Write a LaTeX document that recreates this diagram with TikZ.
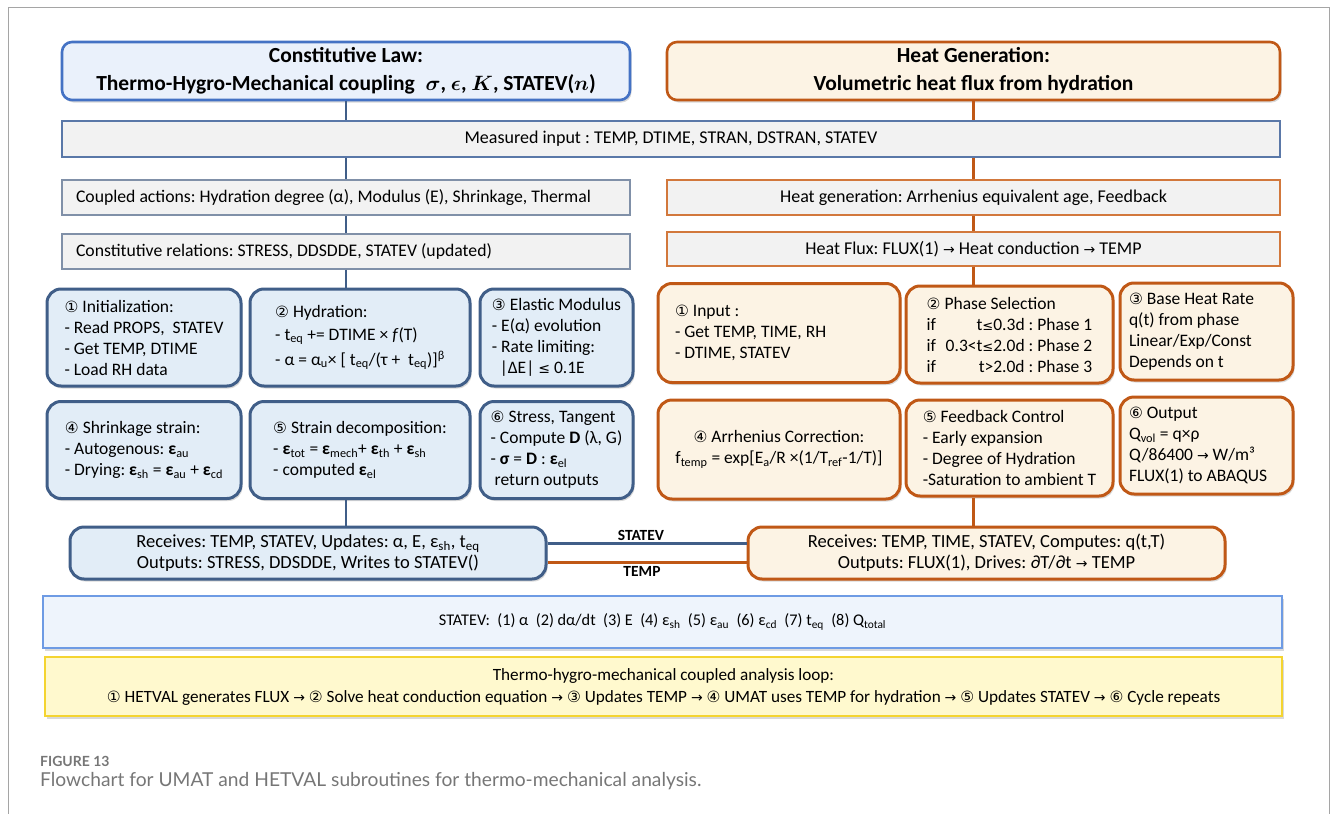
\documentclass[tikz,border=0pt]{standalone}
\usepackage{fontspec}
\usepackage{bm}
\setmainfont{Carlito}
\newfontfamily\djv{DejaVu Sans}
\newfontfamily\capfont{Lato}
\usetikzlibrary{shadows}
\frenchspacing
\hyphenpenalty=10000
\definecolor{hblue}{RGB}{68,114,196}
\definecolor{hbluefill}{RGB}{234,241,251}
\definecolor{dblue}{RGB}{64,94,136}
\definecolor{lbfill}{RGB}{226,237,247}
\definecolor{orng}{RGB}{192,88,22}
\definecolor{ofill}{RGB}{252,243,228}
\definecolor{barfill}{RGB}{242,242,242}
\definecolor{barblue}{RGB}{90,120,168}
\definecolor{bargray}{RGB}{128,144,168}
\definecolor{barorng}{RGB}{210,120,60}
\definecolor{stblue}{RGB}{110,155,228}
\definecolor{stfill}{RGB}{238,244,252}
\definecolor{ybord}{RGB}{244,212,48}
\definecolor{yfill}{RGB}{255,249,206}
\definecolor{capgray}{RGB}{118,118,118}
\definecolor{framegray}{RGB}{165,165,165}
\newcommand\cnum[1]{{\djv\fontsize{15.5}{15}\selectfont #1}}
\newcommand\rarrow{{\djv\fontsize{14}{14}\selectfont →}}
\newcommand\sbs[1]{\textsubscript{#1}}
\newcommand\bfeps{\textbf{ε}}
\begin{document}
\begin{tikzpicture}[x=1pt,y=-1pt,
  shd/.style={drop shadow={shadow xshift=1.5pt,shadow yshift=-2.5pt,opacity=.3}},
  hdr/.style={line width=2.6pt,rounded corners=10pt,shd,align=center,
    font=\fontsize{21.5}{28}\selectfont\bfseries,inner sep=0pt},
  bar/.style={fill=barfill,line width=1.1pt,inner sep=0pt,font=\fontsize{18}{20}\selectfont},
  lbox/.style={draw=dblue,fill=lbfill,line width=3pt,rounded corners=14pt,shd,
    align=left,inner sep=0pt,font=\fontsize{17.5}{21}\selectfont},
  obox/.style={draw=orng,fill=ofill,line width=3pt,rounded corners=14pt,shd,
    align=left,inner sep=0pt,font=\fontsize{17.5}{21}\selectfont},
  bline/.style={draw=dblue,line width=2.8pt},
  oline/.style={draw=orng,line width=2.8pt},
  lab/.style={font=\fontsize{15.5}{15}\selectfont\bfseries,inner sep=2pt}
]
\useasboundingbox (0,0) rectangle (1331,814);
\draw[framegray,line width=1pt] (8,814) -- (8,7) -- (1329,7) -- (1329,814);

% headers
\node[hdr,draw=hblue,fill=hbluefill,minimum width=568pt,minimum height=58pt] (lhead) at (346,71)
  {Constitutive Law:\\Thermo-Hygro-Mechanical coupling\enspace $\bm{\sigma}$, $\bm{\epsilon}$, $\bm{K}$, STATEV($\bm{n}$)};
\node[hdr,draw=orng,fill=ofill,minimum width=613pt,minimum height=58pt] (rhead) at (973.5,71)
  {Heat Generation:\\Volumetric heat flux from hydration};

% bars
\node[bar,draw=barblue,minimum width=1218pt,minimum height=36pt] (meas) at (671,139)
  {Measured input : TEMP, DTIME, STRAN, DSTRAN, STATEV};
\node[bar,draw=bargray,minimum width=568pt,minimum height=35pt,text width=550pt,inner xsep=9pt,align=flush left,
  font=\fontsize{17.7}{20}\selectfont] (coup) at (346,197.5)
  {\hspace*{5pt}Coupled actions: Hydration degree (α), Modulus (E), Shrinkage, Thermal};
\node[bar,draw=bargray,minimum width=568pt,minimum height=35pt,text width=550pt,inner xsep=9pt,align=flush left,
  font=\fontsize{17.7}{20}\selectfont] (cons) at (346,251.5)
  {\hspace*{5pt}Constitutive relations: STRESS, DDSDDE, STATEV (updated)};
\node[bar,draw=barorng,minimum width=613pt,minimum height=35pt] (hgen) at (973.5,197.5)
  {Heat generation: Arrhenius equivalent age, Feedback};
\node[bar,draw=barorng,minimum width=613pt,minimum height=34pt] (hflux) at (973.5,249)
  {Heat Flux: FLUX(1) \rarrow{} Heat conduction \rarrow{} TEMP};

% left boxes
\node[lbox,minimum width=194pt,minimum height=97pt] (b1) at (144,337.5)
  {\cnum{①} Initialization:\\- Read PROPS,\ \ STATEV\\- Get TEMP, DTIME\\- Load RH data};
\node[lbox,minimum width=220pt,minimum height=97pt] (b2) at (360,337.5)
  {\cnum{②} Hydration:\\[2pt]- t\sbs{eq} += DTIME × \textit{f}(T)\\[4pt]- α = α\sbs{u}× [ t\sbs{eq}/(τ +\ \ t\sbs{eq})]\textsuperscript{β}};
\node[lbox,minimum width=153pt,minimum height=97pt] (b3) at (556.5,337.5)
  {\cnum{③} Elastic Modulus\\- E(α) evolution\\- Rate limiting:\\\ \ |ΔE|\ {\djv\fontsize{14}{14}\selectfont ≤} 0.1E};
\node[lbox,minimum width=194pt,minimum height=97pt] (b4) at (144,450)
  {\cnum{④} Shrinkage strain:\\- Autogenous: \bfeps\sbs{au}\\- Drying: \bfeps\sbs{sh} = \bfeps\sbs{au} + \bfeps\sbs{cd}};
\node[lbox,minimum width=220pt,minimum height=97pt] (b5) at (360,450)
  {\cnum{⑤} Strain decomposition:\\- \bfeps\sbs{tot} = \bfeps\sbs{mech}+ \bfeps\sbs{th} + \bfeps\sbs{sh}\\- computed \bfeps\sbs{el}};
\node[lbox,minimum width=153pt,minimum height=97pt] (b6) at (556.5,450)
  {\cnum{⑥} Stress, Tangent\\- Compute \textbf{D} (λ, G)\\- \textbf{σ} = \textbf{D} : \bfeps\sbs{el}\\\ return outputs};

% right boxes
\node[obox,text width=208pt,inner xsep=17pt,minimum height=99pt,align=flush left] (r1) at (779,333)
  {\cnum{①} Input :\\- Get TEMP, TIME, RH\\- DTIME, STATEV};
\node[obox,minimum width=207pt,minimum height=97pt] (r2) at (1009.5,334.5)
  {\cnum{②} Phase Selection\\
   \makebox[1.1em][l]{if}\makebox[4.5em][r]{t{\djv\fontsize{13}{13}\selectfont ≤}0.3d} : Phase 1\\
   \makebox[1.1em][l]{if}\makebox[4.5em][r]{0.3<t{\djv\fontsize{13}{13}\selectfont ≤}2.0d} : Phase 2\\
   \makebox[1.1em][l]{if}\makebox[4.5em][r]{t>2.0d} : Phase 3};
\node[obox,text width=155pt,inner xsep=9pt,minimum height=97pt,align=flush left] (r3) at (1206.5,331.5)
  {\cnum{③} Base Heat Rate\\q(t) from phase\\Linear/Exp/Const\\Depends on t};
\node[obox,minimum width=242pt,minimum height=99pt,align=center] (r4) at (779,449.5)
  {\cnum{④} Arrhenius Correction:\\f\sbs{temp} = exp[E\sbs{a}/R ×(1/T\sbs{ref}-1/T)]};
\node[obox,minimum width=207pt,minimum height=96pt] (r5) at (1009.5,448)
  {\cnum{⑤} Feedback Control\\- Early expansion\\- Degree of Hydration\\-Saturation to ambient T};
\node[obox,text width=155pt,inner xsep=9pt,minimum height=97pt,align=flush left] (r6) at (1206.5,445.5)
  {\cnum{⑥} Output\\Q\sbs{vol} = q×ρ\\Q/86400 \rarrow{} W/m³\\FLUX(1) to ABAQUS};

% receives boxes
\node[lbox,align=center,minimum width=476pt,minimum height=52pt,font=\fontsize{18.5}{21}\selectfont] (recL) at (308,553)
  {Receives: TEMP, STATEV, Updates: α, E, ε\sbs{sh}, t\sbs{eq}\\Outputs: STRESS, DDSDDE, Writes to STATEV()};
\node[obox,align=center,minimum width=477pt,minimum height=52pt,font=\fontsize{18.5}{21}\selectfont] (recR) at (986.5,553)
  {Receives: TEMP, TIME, STATEV, Computes: q(t,T)\\Outputs: FLUX(1), Drives: ∂T/∂t \rarrow{} TEMP};

% STATEV bar and loop bar
\node[draw=stblue,fill=stfill,line width=2.4pt,shd,minimum width=1239pt,minimum height=52pt,
  font=\fontsize{16.3}{18}\selectfont] (stv) at (662.5,622)
  {STATEV:\ \ (1) α\ \ (2) dα/dt\ \ (3) E\ \ (4) ε\sbs{sh}\ \ (5) ε\sbs{au}\ \ (6) ε\sbs{cd}\ \ (7) t\sbs{eq}\ \ (8) Q\sbs{total}};
\node[draw=ybord,fill=yfill,line width=2.6pt,shd,minimum width=1237pt,minimum height=59pt,align=center,
  font=\fontsize{17.2}{22}\selectfont] (loop) at (663.5,686.5)
  {Thermo-hygro-mechanical coupled analysis loop:\\
   \cnum{①} HETVAL generates FLUX \rarrow{} \cnum{②} Solve heat conduction equation \rarrow{} \cnum{③}\ Updates TEMP \rarrow{} \cnum{④} UMAT uses TEMP for hydration \rarrow{} \cnum{⑤} Updates STATEV \rarrow{} \cnum{⑥} Cycle repeats};

% connectors left
\draw[bline] (lhead.south) -- (lhead.south |- meas.north);
\draw[bline] (lhead.south |- meas.south) -- (coup.north);
\draw[bline] (coup.south) -- (cons.north);
\draw[bline] (cons.south) -- (cons.south |- b2.north);
\draw[bline] (cons.south |- b5.south) -- (cons.south |- recL.north);
% connectors right
\draw[oline] (rhead.south) -- (rhead.south |- meas.north);
\draw[oline] (rhead.south |- meas.south) -- (hgen.north);
\draw[oline] (hgen.south) -- (hflux.north);
\draw[oline] (hflux.south) -- (hflux.south |- r2.north);
\draw[oline] (hflux.south |- r5.south) -- (hflux.south |- recR.north);
% exchange lines
\draw[bline] ([yshift=9.5pt]recL.east) -- node[above,lab,xshift=-6pt]{STATEV} ([yshift=9.5pt]recR.west);
\draw[oline] ([yshift=-9.5pt]recL.east) -- node[below,lab,yshift=-1pt,xshift=-5pt]{TEMP} ([yshift=-9.5pt]recR.west);

% caption
\node[anchor=west,inner sep=0pt,text=capgray,font=\capfont\bfseries\fontsize{14}{14}\selectfont] (figlab) at (40,761) {FIGURE 13};
\node[anchor=west,inner sep=0pt,text=capgray,font=\capfont\fontsize{19.2}{19}\selectfont] (figcap) at (40,781)
  {Flowchart for UMAT and HETVAL subroutines for thermo-mechanical analysis.};
\end{tikzpicture}
\end{document}
